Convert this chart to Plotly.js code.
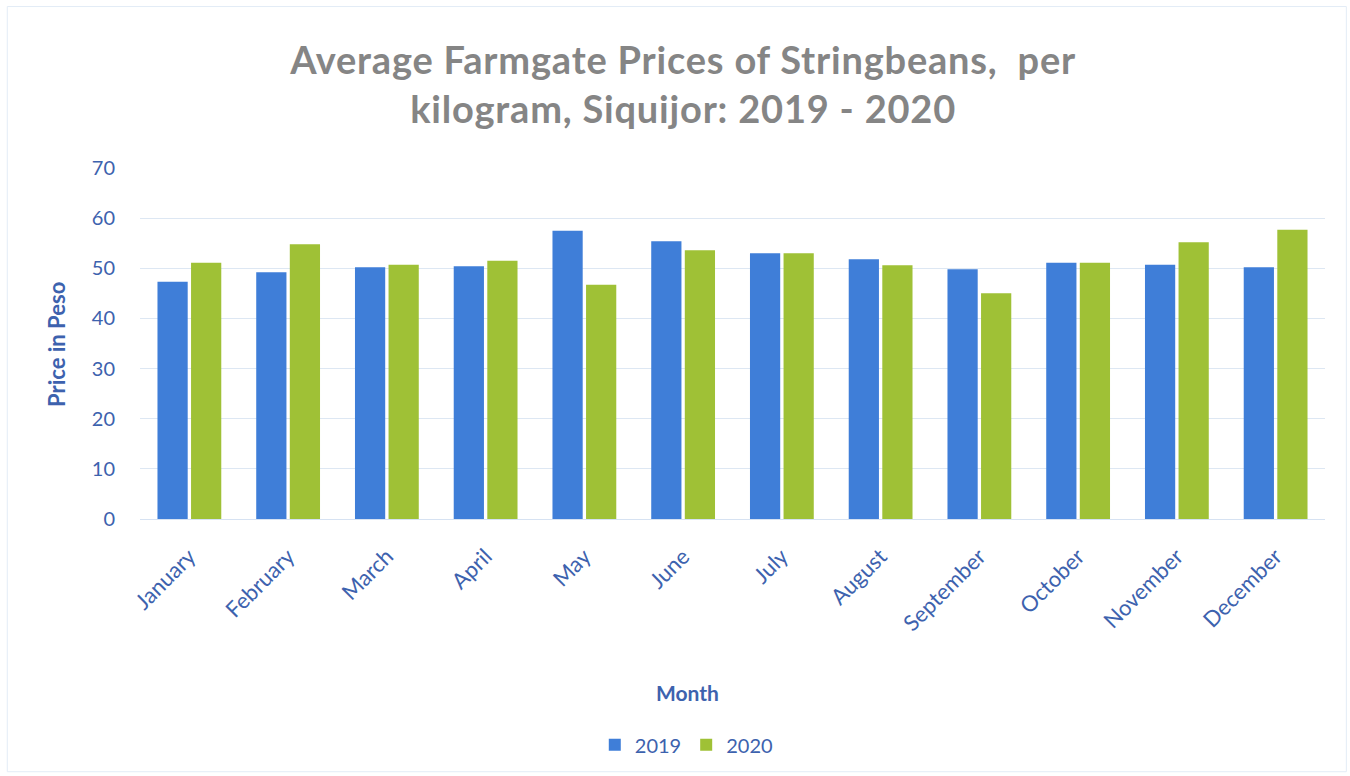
<!DOCTYPE html>
<html>
<head>
<meta charset="utf-8">
<script src="https://cdn.plot.ly/plotly-3.0.1.min.js"></script>
<style>
html,body{margin:0;padding:0;background:#fff;}
#chart{width:1350px;height:776px;}
.gtitle{letter-spacing:0.8px;}
</style>
</head>
<body>
<div id="chart"></div>
<script>
const months = ["January","February","March","April","May","June","July","August","September","October","November","December"];
const prices2019 = [47.3, 49.2, 50.2, 50.4, 57.5, 55.4, 53.0, 51.8, 49.8, 51.1, 50.7, 50.2];
const prices2020 = [51.1, 54.8, 50.7, 51.5, 46.7, 53.6, 53.0, 50.6, 45.0, 51.1, 55.2, 57.7];
const yTicks = [0, 10, 20, 30, 40, 50, 60, 70];

const FONT = "Lato, 'Open Sans', sans-serif";
const BLUE_TXT = "#3d62ae";

const data = [
  {type:"bar", name:"2019", x:months, y:prices2019, marker:{color:"#3f7ed8"}},
  {type:"bar", name:"2020", x:months, y:prices2020, marker:{color:"#9fc136"}}
];

const layout = {
  width:1350, height:776,
  paper_bgcolor:"#ffffff", plot_bgcolor:"#ffffff",
  margin:{l:140, r:25, t:168, b:257},
  font:{family:FONT, color:BLUE_TXT},
  title:{text:"<b>Average Farmgate Prices of Stringbeans,  per<br>kilogram, Siquijor: 2019 - 2020</b>",
         font:{family:FONT, size:38, color:"#858585"}, x:0.506, xanchor:"center", y:0.905, yanchor:"top"},
  barmode:"group", bargap:0.32, bargroupgap:0.1,
  showlegend:true,
  legend:{orientation:"h", x:0.461, xanchor:"center", y:-0.643, yanchor:"middle", font:{size:20, color:BLUE_TXT}, traceorder:"normal", itemwidth:30},
  xaxis:{tickangle:-45, tickfont:{size:22, color:BLUE_TXT}, showgrid:false, showline:true, linecolor:"#d6e2f2", ticks:"", ticklabelstandoff:15},
  yaxis:{range:[0,70], tickvals:yTicks, tickfont:{size:20, color:BLUE_TXT}, gridcolor:"#dde7f3", zeroline:false, showline:false, ticklabelstandoff:24},
  annotations:[
    {text:"<b>Month</b>", xref:"paper", yref:"paper", x:0.462, y:-0.493, xanchor:"center", yanchor:"middle", showarrow:false, font:{size:21, color:BLUE_TXT}},
    {text:"<b>Price in Peso</b>", xref:"paper", yref:"paper", x:-0.07, y:0.496, xanchor:"center", yanchor:"middle", textangle:-90, showarrow:false, font:{size:22, color:BLUE_TXT}}
  ],
  shapes:[
    {type:"rect", xref:"paper", yref:"paper", x0:-0.112, x1:1.018, y0:-0.72, y1:1.46, line:{color:"#e3ecf6", width:1}}
  ]
};

Plotly.newPlot("chart", data, layout, {displayModeBar:false, staticPlot:true});
</script>
</body>
</html>
